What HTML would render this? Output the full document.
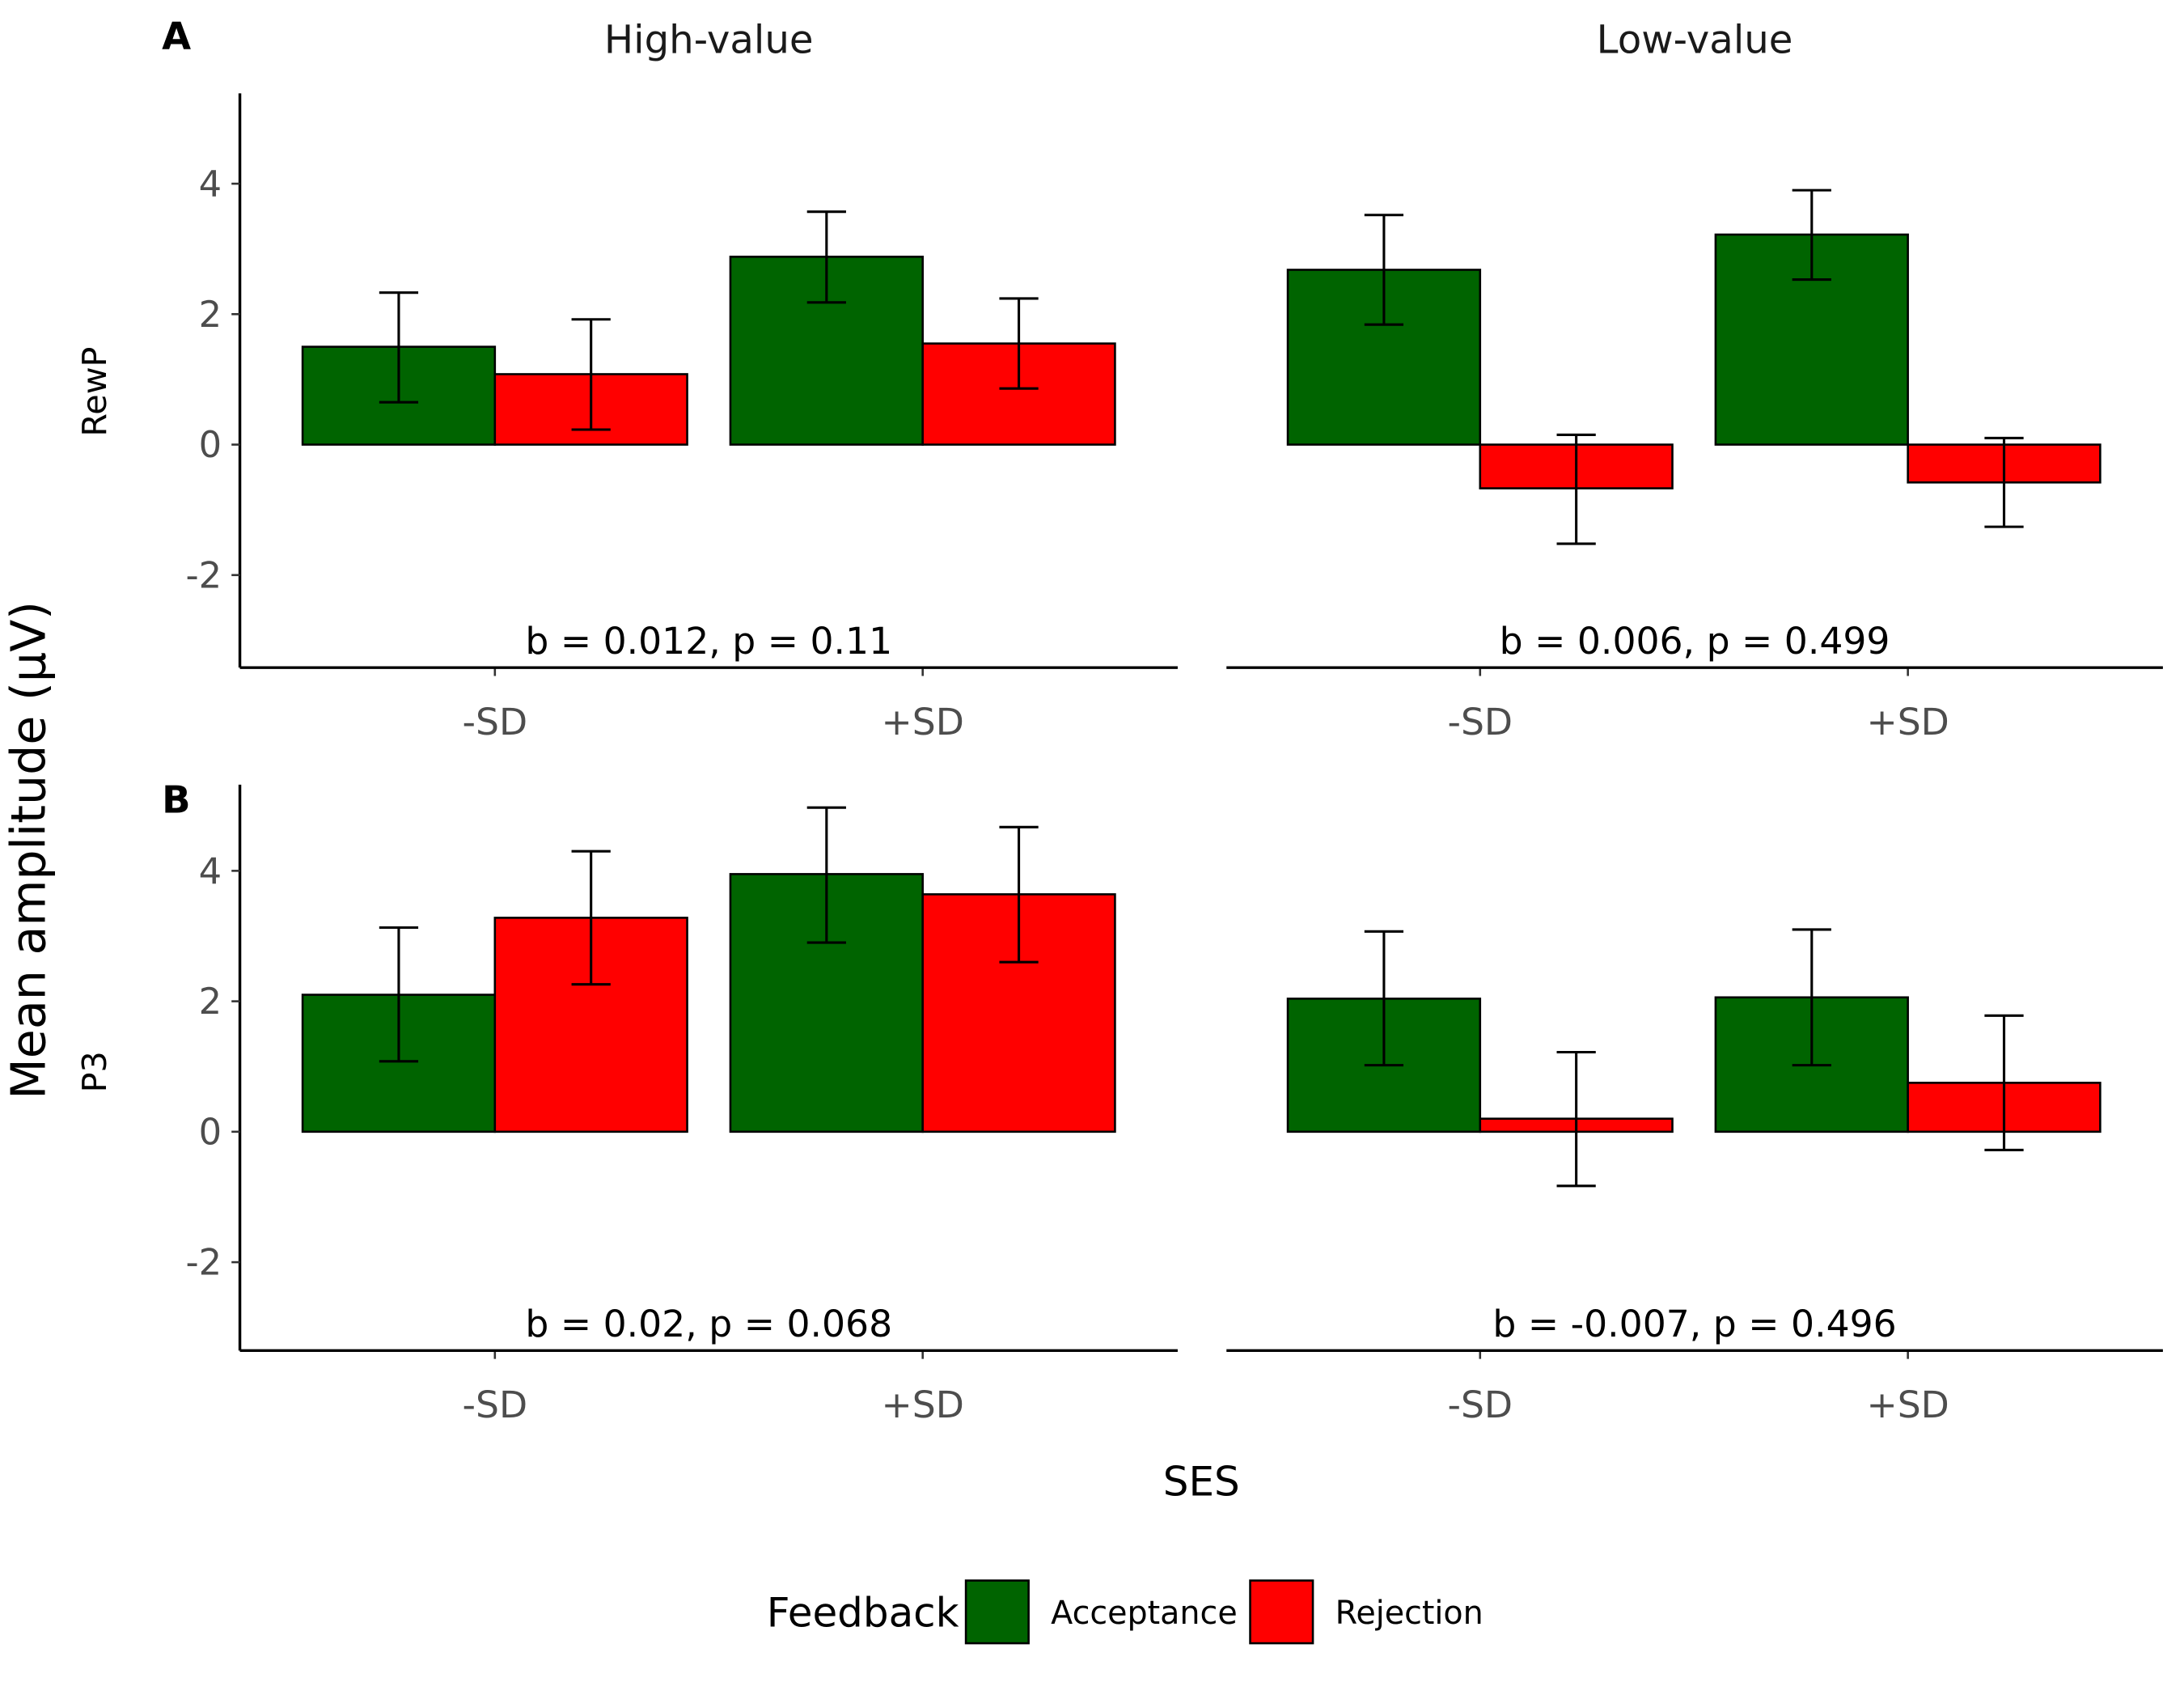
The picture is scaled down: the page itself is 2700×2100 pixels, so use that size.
<!DOCTYPE html>
<html><head><meta charset="utf-8"><style>
html,body{margin:0;padding:0;background:#fff}
svg{display:block;font-family:"DejaVu Sans","Liberation Sans",sans-serif}
</style></head><body>
<svg id="chart" width="2700" height="2100" viewBox="0 0 1567 1219" xmlns="http://www.w3.org/2000/svg"></svg>
<script>
const rows = ["RewP","P3"];
const cols = ["High-value","Low-value"];
const sesCats = ["-SD","+SD"];
const feedback = ["Acceptance","Rejection"];
const yTicks = [-2,0,2,4];
const meanRewP = [[[1.5,1.08],[2.88,1.55]],[[2.68,-0.67],[3.22,-0.58]]];
const lowRewP  = [[[0.65,0.23],[2.18,0.86]],[[1.84,-1.52],[2.53,-1.26]]];
const highRewP = [[[2.33,1.92],[3.57,2.24]],[[3.52,0.15],[3.9,0.1]]];
const meanP3 = [[[2.1,3.28],[3.95,3.64]],[[2.04,0.2],[2.06,0.75]]];
const lowP3  = [[[1.08,2.26],[2.9,2.6]],[[1.02,-0.83],[1.02,-0.28]]];
const highP3 = [[[3.13,4.3],[4.97,4.67]],[[3.07,1.22],[3.1,1.78]]];
const statsText = [["b = 0.012, p = 0.11","b = 0.006, p = 0.499"],["b = 0.02, p = 0.068","b = -0.007, p = 0.496"]];
const colors = ["#006400","#FF0000"];

const svg = document.getElementById('chart');
const NS = "http://www.w3.org/2000/svg";
function mk(tag, attrs, parent, text){
  const e = document.createElementNS(NS, tag);
  for (const k in attrs) e.setAttribute(k, attrs[k]);
  if (text !== undefined) e.textContent = text;
  (parent||svg).appendChild(e);
  return e;
}
const rowZero = [319, 812];
const unit = 46.8;
const rowTop = [67, 563], rowBot = [479, 969];
const colX0 = [172, 880], colX1 = [845, 1552];
const catCenter = [[355,662],[1062,1369]];
const barW = 138;
const rowLabelY = [281, 769];
const means = [meanRewP, meanP3], lows = [lowRewP, lowP3], highs = [highRewP, highP3];

for (let r=0;r<2;r++){
  const y = v => rowZero[r] - v*unit;
  for (let c=0;c<2;c++){
    const g = mk('g',{});
    
    
    for (let s=0;s<2;s++){
      for (let f=0;f<2;f++){
        const m = means[r][c][s][f];
        const x = catCenter[c][s] + (f===0 ? -barW : 0);
        const bar = mk('rect',{x:x,y:Math.min(y(m),y(0)),width:barW,height:Math.abs(y(m)-y(0)),fill:colors[f],stroke:'#000','stroke-width':1.5},g);
        
        
        const cx = x + barW/2;
        const eb = mk('path',{d:`M${cx-14},${y(highs[r][c][s][f])}H${cx+14}M${cx},${y(highs[r][c][s][f])}V${y(lows[r][c][s][f])}M${cx-14},${y(lows[r][c][s][f])}H${cx+14}`,stroke:'#000','stroke-width':1.8,fill:'none'},g);
        
        
      }
      mk('line',{x1:catCenter[c][s],x2:catCenter[c][s],y1:rowBot[r],y2:rowBot[r]+6,stroke:'#333','stroke-width':1.5},g);
      const xl = mk('text',{x:catCenter[c][s],y:rowBot[r]+48,'text-anchor':'middle','font-size':26.5,fill:'#4d4d4d'},g,sesCats[s]);
      
      
    }
    const xa = mk('line',{x1:colX0[c],x2:colX1[c],y1:rowBot[r],y2:rowBot[r],stroke:'#000','stroke-width':2},g);
    
    
    const st = mk('text',{x:(colX0[c]+colX1[c])/2,y:rowBot[r]-10,'text-anchor':'middle','font-size':26.5,fill:'#000'},g,statsText[r][c]);
    
    
  }
  const ya = mk('line',{x1:172,x2:172,y1:rowTop[r],y2:rowBot[r],stroke:'#000','stroke-width':2});
  
  
  yTicks.forEach(t=>{
    mk('line',{x1:166,x2:172,y1:y(t),y2:y(t),stroke:'#333','stroke-width':1.5});
    const tl = mk('text',{x:159,y:y(t)+9,'text-anchor':'end','font-size':26,fill:'#4d4d4d'},null,t);
    
    
  });
  const rl = mk('text',{transform:`translate(76,${rowLabelY[r]}) rotate(-90)`,'text-anchor':'middle','font-size':24,fill:'#000'},null,rows[r]);
  
  
  const pl = mk('text',{x:116,y:r===0?35:583,'font-size':27,'font-weight':'bold',fill:'#000'},null,r===0?'A':'B');
  
  
}
cols.forEach((c,i)=>{
  const t = mk('text',{x:(colX0[i]+colX1[i])/2,y:38,'text-anchor':'middle','font-size':28,fill:'#1a1a1a'},null,c);
  
  
});
const yt = mk('text',{transform:'translate(32,610) rotate(-90)','text-anchor':'middle','font-size':34,fill:'#000'},null,'Mean amplitude (µV)');


const xt = mk('text',{x:862,y:1073,'text-anchor':'middle','font-size':29,fill:'#000'},null,'SES');


const lg = mk('g',{});


mk('text',{x:550,y:1167,'font-size':29,fill:'#000'},lg,'Feedback');
const lx = [693, 897];
feedback.forEach((f,i)=>{
  const k = mk('rect',{x:lx[i],y:1134,width:45,height:45,fill:colors[i],stroke:'#000','stroke-width':1.5},lg);
  
  
  const lt = mk('text',{x:lx[i]+61,y:1165,'font-size':23,fill:'#000'},lg,f);
  
  
});
</script>
</body></html>
